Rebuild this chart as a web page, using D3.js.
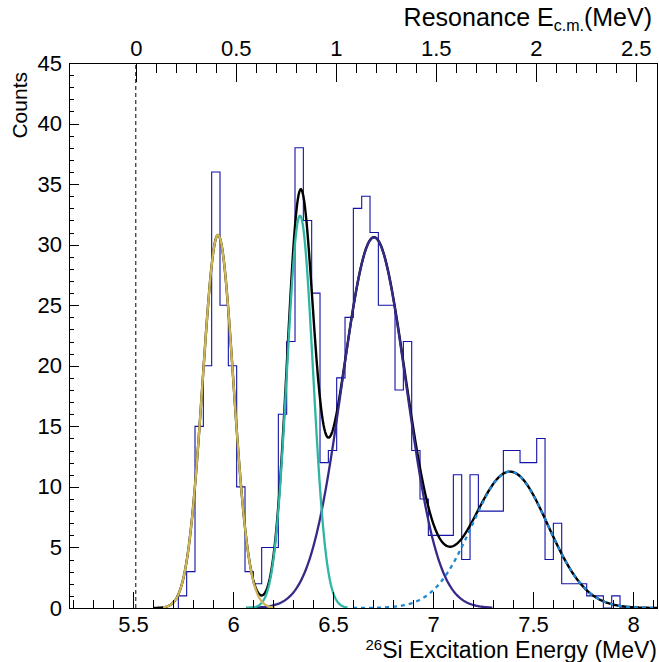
<!DOCTYPE html>
<html>
<head>
<meta charset="utf-8">
<script src="https://cdn.jsdelivr.net/npm/d3@7"></script>
<style>
  body { margin: 0; background: #fff; }
  text { font-family: "Liberation Sans", Arial, Helvetica, sans-serif; }
</style>
</head>
<body>
<div id="chart"></div>
<script>
// histogram of 26Si excitation energy, bins
const histStart = 5.7267,   // low edge of first filled bin (MeV)
    binWidth = 0.04167;
const counts = [1, 3, 15, 20, 36, 25, 20, 10, 3, 2, 5, 5, 16, 22, 38, 32, 26, 12, 13, 19,
    24, 33, 34, 31, 25, 25, 18, 22, 13, 9, 6, 6, 6, 11, 4, 11, 8, 8, 8, 13,
    13, 12, 12, 14, 4, 7, 2, 2, 2, 1, 1, 0, 1, 0];

// gaussian fit components
const peakAmp = [30.8, 32.4, 30.6, 11.26];
const peakMean = [5.925, 6.335, 6.705, 7.385];
const peakSigma = [0.077, 0.065, 0.16, 0.19];
const peakFrom = [5.65, 6.065, 6.065, 6.6];
const peakTo = [6.21, 6.575, 7.3, 8.12];

const xTicks = [5.5, 6, 6.5, 7, 7.5, 8];
const topTicks = [0, 0.5, 1, 1.5, 2, 2.5];
const yTicks = [0, 5, 10, 15, 20, 25, 30, 35, 40, 45];
const threshold = 5.514;   // proton threshold, E_cm = 0

const width = 659, height = 662,
    margin = ({ top: 63, right: 2, bottom: 54, left: 69 });

const peakColors = ["#cdb654", "#2eb5a3", "#352a87", "#1e88d6"];
const font = 22;

const x = d3.scaleLinear().domain([5.18, 8.12]).range([margin.left, width - margin.right]);
const xTop = d3.scaleLinear().domain([5.18 - threshold, 8.12 - threshold]).range([margin.left, width - margin.right]);
const y = d3.scaleLinear().domain([0, 45]).range([height - margin.bottom, margin.top]);

const svg = d3.select("#chart")
  .append("svg")
  .attr("width", width)
  .attr("height", height)
  .attr("viewBox", [0, 0, width, height]);

svg.append("rect").attr("width", width).attr("height", height).attr("fill", "white");

svg.append("clipPath").attr("id", "frame")
  .append("rect")
  .attr("x", margin.left).attr("y", margin.top)
  .attr("width", width - margin.right - margin.left)
  .attr("height", height - margin.bottom - margin.top);

// histogram outline
const histPts = [[histStart, 0]];
counts.forEach((c, i) => {
  histPts.push([histStart + i * binWidth, c]);
  histPts.push([histStart + (i + 1) * binWidth, c]);
});
histPts.push([histStart + counts.length * binWidth, 0]);

const line = d3.line().x(d => x(d[0])).y(d => y(d[1]));

svg.append("path")
  .attr("d", line(histPts))
  .attr("fill", "none")
  .attr("stroke", "#1212a6")
  .attr("stroke-width", 1.1);

const gauss = (k, e) => peakAmp[k] * Math.exp(-0.5 * Math.pow((e - peakMean[k]) / peakSigma[k], 2));
const total = e => d3.sum(peakAmp, (a, k) => gauss(k, e));

const curves = svg.append("g").attr("clip-path", "url(#frame)").attr("fill", "none");

// total fit
curves.append("path")
  .attr("d", line(d3.range(5.6, 8.13, 0.004).map(e => [e, total(e)])))
  .attr("stroke", "black")
  .attr("stroke-width", 2.4);

// components: navy, teal, gold, then the dashed one on top
[2, 1, 0, 3].forEach(k => {
  curves.append("path")
    .attr("d", line(d3.range(peakFrom[k], peakTo[k] + 0.001, 0.004).map(e => [e, gauss(k, e)])))
    .attr("stroke", peakColors[k])
    .attr("stroke-width", 2.3)
    .attr("stroke-dasharray", k === 3 ? "4,4" : null);
});

// threshold line
svg.append("line")
  .attr("x1", x(threshold)).attr("x2", x(threshold))
  .attr("y1", y(0)).attr("y2", y(45))
  .attr("stroke", "black")
  .attr("stroke-dasharray", "4,3");

// axes -- ticks point inward like ROOT
const range01 = (a, b, s) => d3.range(Math.round(a / s), Math.round(b / s) + 1).map(i => +(i * s).toFixed(3));

function styleAxis(g) {
  g.select(".domain").remove();
  g.selectAll("line").attr("stroke", "black").attr("shape-rendering", "crispEdges");
  g.selectAll("text").attr("font-size", font).attr("fill", "black");
}

svg.append("g")
  .attr("transform", `translate(0,${y(0)})`)
  .call(d3.axisBottom(x).tickValues(range01(5.2, 8.1, 0.1)).tickSize(-8).tickFormat(""))
  .call(styleAxis);
svg.append("g")
  .attr("transform", `translate(0,${y(0)})`)
  .call(d3.axisBottom(x).tickValues(xTicks).tickSize(-16).tickPadding(8).tickFormat(d3.format("")))
  .call(styleAxis);

svg.append("g")
  .attr("transform", `translate(0,${y(45)})`)
  .call(d3.axisTop(xTop).tickValues(range01(0, 2.5, 0.1)).tickSize(-10).tickFormat(""))
  .call(styleAxis);
svg.append("g")
  .attr("transform", `translate(0,${y(45)})`)
  .call(d3.axisTop(xTop).tickValues(topTicks).tickSize(-19).tickPadding(7).tickFormat(d3.format("")))
  .call(styleAxis);

svg.append("g")
  .attr("transform", `translate(${margin.left},0)`)
  .call(d3.axisLeft(y).tickValues(d3.range(0, 46, 1)).tickSize(-5).tickFormat(""))
  .call(styleAxis);
svg.append("g")
  .attr("transform", `translate(${margin.left},0)`)
  .call(d3.axisLeft(y).tickValues(yTicks).tickSize(-10).tickPadding(7).tickFormat(d3.format("")))
  .call(styleAxis);

// frame
svg.append("rect")
  .attr("x", margin.left).attr("y", margin.top)
  .attr("width", width - margin.right - margin.left)
  .attr("height", height - margin.bottom - margin.top)
  .attr("fill", "none")
  .attr("stroke", "black")
  .attr("shape-rendering", "crispEdges");

// titles
const xTitle = svg.append("text")
  .attr("x", width - margin.right)
  .attr("y", 658)
  .attr("text-anchor", "end")
  .attr("font-size", 23);
xTitle.append("tspan").attr("font-size", 15).attr("dy", -8).text("26");
xTitle.append("tspan").attr("dy", 8).text("Si Excitation Energy (MeV)");

const topTitle = svg.append("text")
  .attr("x", 652)
  .attr("y", 26)
  .attr("text-anchor", "end")
  .attr("font-size", 25);
topTitle.append("tspan").text("Resonance E");
topTitle.append("tspan").attr("font-size", 16).attr("dy", 5).text("c.m.");
topTitle.append("tspan").attr("dy", -5).text("(MeV)");

svg.append("text")
  .attr("transform", "translate(27,72) rotate(-90)")
  .attr("text-anchor", "end")
  .attr("font-size", font - 1)
  .text("Counts");
</script>
</body>
</html>
